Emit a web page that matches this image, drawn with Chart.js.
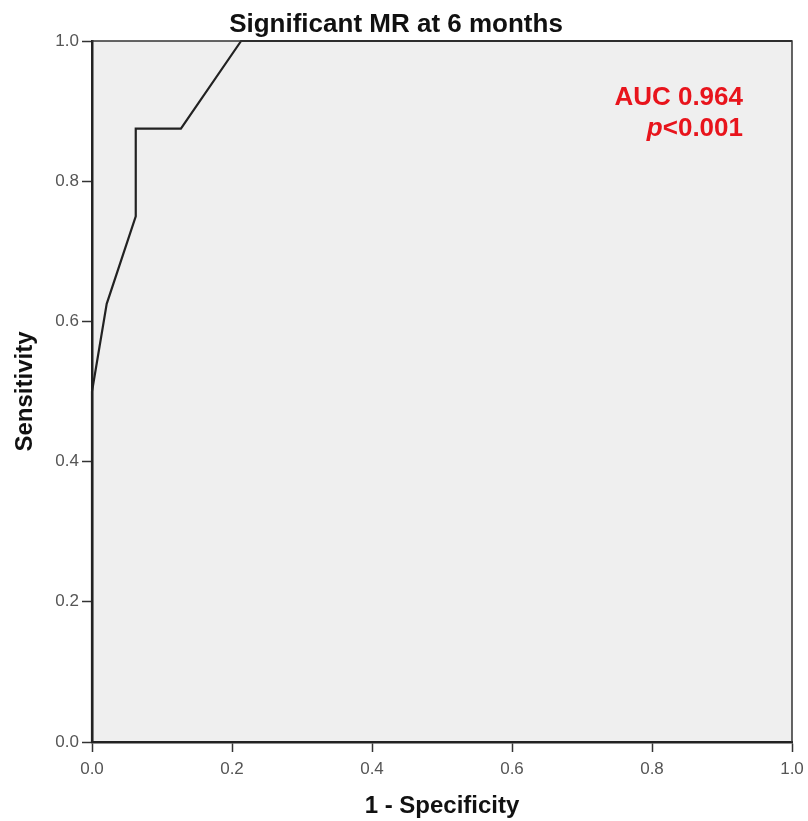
<!DOCTYPE html>
<html>
<head>
<meta charset="utf-8">
<script src="https://cdn.jsdelivr.net/npm/chart.js@4"></script>
<style>
  html, body { margin: 0; padding: 0; background: #fff; }
  #wrap { width: 808px; height: 821px; }
</style>
</head>
<body>
<div id="wrap"><canvas id="rocChart"></canvas></div>
<script>
// ROC curve points
const falsePositiveRate = [0, 0, 0.021, 0.0625, 0.0625, 0.127, 0.213, 1];
const truePositiveRate  = [0, 0.5, 0.625, 0.75, 0.875, 0.875, 1, 1];
const tickValues = [0, 0.2, 0.4, 0.6, 0.8, 1.0];

const chartTitle = "Significant MR at 6 months";
const aucText = "AUC 0.964";
const pValueText = "<0.001";

const FONT = "Arial, 'Liberation Sans', sans-serif";

const points = falsePositiveRate.map((x, i) => ({ x: x, y: truePositiveRate[i] }));

const plotDecor = {
    id: "plotDecor",
    beforeDraw(chart) {
        const { ctx, chartArea: a } = chart;
        ctx.save();
        ctx.fillStyle = "#efefef";
        ctx.fillRect(a.left, a.top, a.right - a.left, a.bottom - a.top);
        ctx.restore();
    },
    afterDraw(chart) {
        const { ctx, chartArea: a, scales } = chart;
        ctx.save();
        // top and right frame
        ctx.strokeStyle = "#333";
        ctx.lineWidth = 1.5;
        ctx.beginPath();
        ctx.moveTo(a.left, a.top);
        ctx.lineTo(a.right, a.top);
        ctx.lineTo(a.right, a.bottom);
        ctx.stroke();

        // title
        ctx.fillStyle = "#111";
        ctx.font = "bold 26px " + FONT;
        ctx.textAlign = "center";
        ctx.textBaseline = "alphabetic";
        ctx.fillText(chartTitle, 396, 32);

        // AUC annotation
        const xr = scales.x.getPixelForValue(0.93);
        ctx.fillStyle = "#e8141c";
        ctx.textAlign = "right";
        ctx.font = "bold 26px " + FONT;
        ctx.fillText(aucText, xr, scales.y.getPixelForValue(0.909));
        const y2 = scales.y.getPixelForValue(0.864);
        ctx.fillText(pValueText, xr, y2);
        const w = ctx.measureText(pValueText).width;
        ctx.font = "italic bold 26px " + FONT;
        ctx.fillText("p", xr - w, y2);
        ctx.restore();
    }
};

const axisCommon = {
    type: "linear",
    min: 0,
    max: 1,
    grid: {
        drawOnChartArea: false,
        tickLength: 10,
        tickColor: "#333",
        tickWidth: 1.5
    },
    border: { color: "#222", width: 2.5 },
    afterBuildTicks: (scale) => { scale.ticks = tickValues.map(v => ({ value: v })); },
    ticks: {
        color: "#555",
        font: { family: FONT, size: 17 },
        padding: 3,
        callback: (v) => Number(v).toFixed(1)
    }
};

new Chart(document.getElementById("rocChart"), {
    type: "scatter",
    data: {
        datasets: [{
            label: "ROC",
            data: points,
            showLine: true,
            borderColor: "#222",
            borderWidth: 2.2,
            pointRadius: 0,
            tension: 0,
            clip: false
        }]
    },
    options: {
        responsive: true,
        maintainAspectRatio: false,
        animation: false,
        layout: { padding: { top: 41, right: 16, left: 0, bottom: 0 } },
        plugins: {
            legend: { display: false },
            tooltip: { enabled: false }
        },
        scales: {
            x: Object.assign({}, axisCommon, {
                position: "bottom",
                afterFit: (scale) => {
                    scale.height = 79;
                    scale.paddingLeft = 0;
                    scale.paddingRight = 0;
                },
                ticks: Object.assign({}, axisCommon.ticks, { padding: 7 }),
                title: {
                    display: true,
                    text: "1 - Specificity",
                    color: "#111",
                    font: { family: FONT, size: 24, weight: "bold" },
                    padding: { top: 0, bottom: 0 }
                }
            }),
            y: Object.assign({}, axisCommon, {
                position: "left",
                afterFit: (scale) => {
                    scale.width = 92;
                    scale.paddingTop = 0;
                    scale.paddingBottom = 0;
                },
                title: {
                    display: true,
                    text: "Sensitivity",
                    color: "#111",
                    font: { family: FONT, size: 24, weight: "bold" },
                    padding: { top: 11, bottom: 0 }
                }
            })
        }
    },
    plugins: [plotDecor]
});
</script>
</body>
</html>
